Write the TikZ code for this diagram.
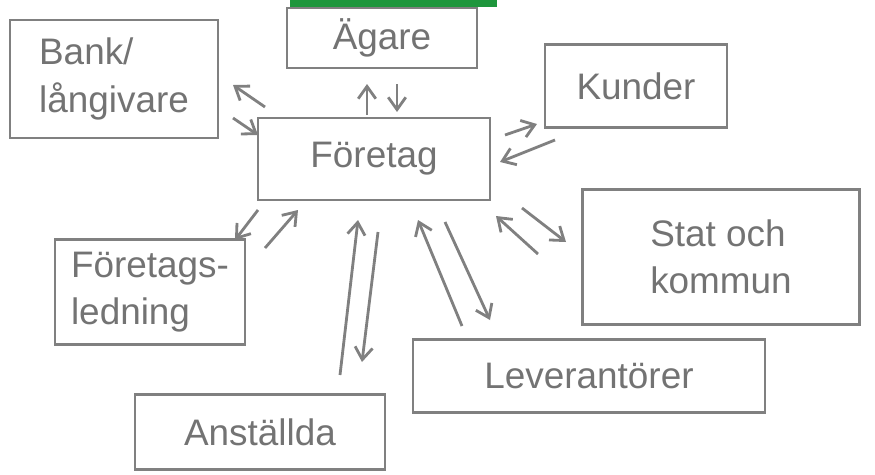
\documentclass[tikz,border=0pt]{standalone}
\usepackage{fontspec}
\setmainfont{Liberation Sans}
\usetikzlibrary{arrows.meta}

\definecolor{pencil}{RGB}{128,128,128}
\definecolor{marker}{RGB}{30,150,60}

\tikzset{
	box/.style={draw=pencil, line width=1.6pt, inner sep=4pt, text=pencil!90!black,
		font=\fontsize{21}{27}\selectfont, align=left},
	flow/.style={draw=pencil, line width=1.6pt, -{Straight Barb[length=7pt,width=10pt]}}
}

\begin{document}
\begin{tikzpicture}[x=0.02cm,y=-0.02cm]

	\useasboundingbox (0,0) rectangle (875,474);

	% marker strip at the top
	\fill[marker] (290,0) rectangle (497,7);

	% boxes
	\node[box, minimum width=4.16cm, minimum height=2.36cm] (bank) at (114,79) {Bank/\\långivare};
	\node[box, minimum width=3.8cm, minimum height=1.2cm] (agare) at (382,38) {Ägare};
	\node[box, minimum width=3.64cm, minimum height=1.66cm] (kunder) at (636,86) {Kunder};
	\node[box, minimum width=4.64cm, minimum height=1.64cm] (foretag) at (374,159) {Företag};
	\node[box, minimum width=5.54cm, minimum height=2.7cm] (stat) at (721,257) {Stat och\\kommun};
	\node[box, minimum width=3.8cm, minimum height=2.1cm] (ledning) at (150,292) {Företags-\\ledning};
	\node[box, minimum width=7.04cm, minimum height=1.46cm] (lev) at (589,376) {Leverantörer};
	\node[box, minimum width=5cm, minimum height=1.5cm] (anst) at (260,432) {Anställda};

	% end points of the arrow pairs
	\coordinate (b1) at (265,107); \coordinate (b2) at (233,85);
	\coordinate (b3) at (233,118); \coordinate (b4) at (258,135);
	\coordinate (a1) at (367,115); \coordinate (a2) at (367,84);
	\coordinate (a3) at (397,84);  \coordinate (a4) at (397,112);
	\coordinate (k1) at (505,135); \coordinate (k2) at (537,124);
	\coordinate (k3) at (555,140); \coordinate (k4) at (500,162);
	\coordinate (l1) at (258,210); \coordinate (l2) at (235,240);
	\coordinate (l3) at (265,248); \coordinate (l4) at (298,210);
	\coordinate (s1) at (538,254); \coordinate (s2) at (496,216);
	\coordinate (s3) at (522,208); \coordinate (s4) at (566,242);
	\coordinate (e1) at (340,375); \coordinate (e2) at (358,220);
	\coordinate (e3) at (378,232); \coordinate (e4) at (362,362);
	\coordinate (v1) at (462,326); \coordinate (v2) at (418,220);
	\coordinate (v3) at (445,222); \coordinate (v4) at (490,320);

	% arrows
	\draw[flow] (b1) -- (b2);
	\draw[flow] (b3) -- (b4);
	\draw[flow] (a1) -- (a2);
	\draw[flow] (a3) -- (a4);
	\draw[flow] (k1) -- (k2);
	\draw[flow] (k3) -- (k4);
	\draw[flow] (l1) -- (l2);
	\draw[flow] (l3) -- (l4);
	\draw[flow] (s1) -- (s2);
	\draw[flow] (s3) -- (s4);
	\draw[flow] (e1) -- (e2);
	\draw[flow] (e3) -- (e4);
	\draw[flow] (v1) -- (v2);
	\draw[flow] (v3) -- (v4);

\end{tikzpicture}
\end{document}
